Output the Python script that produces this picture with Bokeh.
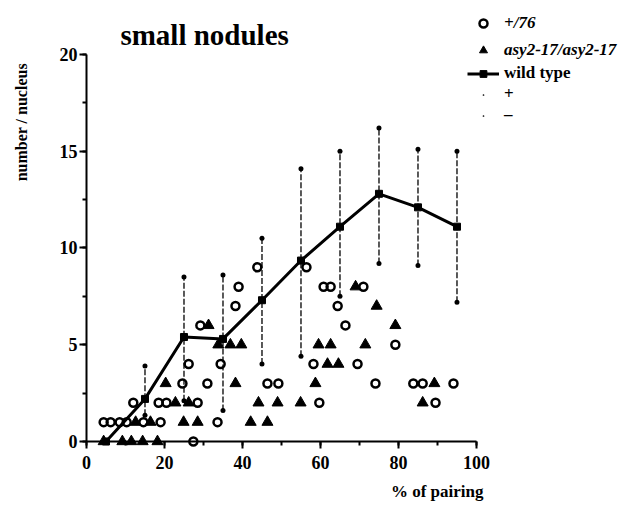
import math
from bokeh.plotting import figure
from bokeh.models import (Range1d, LinearAxis, SingleIntervalTicker, Label,
                          Legend, LegendItem)
from bokeh.embed import file_html
from bokeh.resources import INLINE

# ---------------- data ----------------
# wild type: mean per 10% pairing class and +/- SD ends
wt_x = [5, 15, 25, 35, 45, 55, 65, 75, 85, 95]
wt_mean = [0.0, 2.2, 5.4, 5.3, 7.3, 9.35, 11.1, 12.8, 12.1, 11.1]
err_x = [15, 25, 35, 45, 55, 65, 75, 85, 95]
err_plus = [3.9, 8.5, 8.6, 10.5, 14.1, 15.0, 16.2, 15.1, 15.0]
err_minus = [1.35, 2.1, 1.6, 4.0, 4.4, 7.5, 9.2, 9.1, 7.2]

# +/76 (open circles)
c76_x = [27.4,
         4.4, 6.2, 8.5, 10.3, 14.6, 19.0, 33.6,
         12.0, 18.5, 20.5, 28.5, 59.7, 89.5,
         24.6, 31.0, 46.4, 49.2, 74.1, 83.8, 86.2, 94.1,
         26.2, 34.4, 58.2, 69.5,
         79.2,
         29.2, 66.4,
         38.2, 64.4,
         39.0, 60.8, 62.6, 71.0,
         43.8, 56.4]
c76_y = [0,
         1, 1, 1, 1, 1, 1, 1,
         2, 2, 2, 2, 2, 2,
         3, 3, 3, 3, 3, 3, 3, 3,
         4, 4, 4, 4,
         5,
         6, 6,
         7, 7,
         8, 8, 8, 8,
         9, 9]

# asy2-17/asy2-17 (filled triangles)
asy_x = [4.4, 9.2, 11.5, 14.4, 18.2,
         12.6, 16.4, 24.9, 28.5, 42.1, 46.4,
         22.8, 26.2, 44.1, 49.0, 54.9, 86.2,
         20.3, 38.2, 58.7, 89.2,
         61.8, 64.6,
         33.8, 36.9, 39.7, 59.5, 62.6, 71.5,
         31.3, 79.2,
         74.4,
         69.0]
asy_y = [0, 0, 0, 0, 0,
         1, 1, 1, 1, 1, 1,
         2, 2, 2, 2, 2, 2,
         3, 3, 3, 3,
         4, 4,
         5, 5, 5, 5, 5, 5,
         6, 6,
         7,
         8]

x_ticks_interval = 20
y_ticks_interval = 5

# ---------------- figure ----------------
SERIF = "Liberation Serif"
p = figure(width=622, height=506,
           x_range=Range1d(-22.05, 137.44), y_range=Range1d(-3.36, 22.79),
           x_axis_type=None, y_axis_type=None,
           toolbar_location=None, output_backend="svg",
           min_border_left=0, min_border_right=0,
           min_border_top=0, min_border_bottom=0)
p.outline_line_color = None
p.background_fill_color = "white"
p.border_fill_color = "white"

xaxis = LinearAxis(ticker=SingleIntervalTicker(interval=x_ticks_interval, num_minor_ticks=2),
                   bounds=(0, 100), fixed_location=0)
yaxis = LinearAxis(ticker=SingleIntervalTicker(interval=y_ticks_interval, num_minor_ticks=2),
                   bounds=(0, 20), fixed_location=0)
for ax in (xaxis, yaxis):
    ax.axis_line_width = 2
    ax.major_tick_line_width = 2
    ax.minor_tick_line_width = 2
    ax.major_tick_in = 0
    ax.minor_tick_in = 0
    ax.major_tick_out = 7
    ax.minor_tick_out = 4
    ax.major_label_text_font = SERIF
    ax.major_label_text_font_size = "18px"
    ax.major_label_text_font_style = "bold"
    ax.major_label_text_color = "black"
xaxis.major_label_standoff = 8
yaxis.major_label_standoff = 2
p.add_layout(xaxis, "below")
p.add_layout(yaxis, "left")

# error bars (dashed verticals with dots at both ends)
p.segment(x0=err_x, y0=err_minus, x1=err_x, y1=err_plus,
          line_color="black", line_width=1.3, line_dash="6 2")
r_plus = p.scatter(err_x, err_plus, marker="dot", size=20, color="black")
r_minus = p.scatter(err_x, err_minus, marker="dot", size=20, color="black")

# wild type mean
r_wt_line = p.line(wt_x, wt_mean, line_color="black", line_width=3)
r_wt_sq = p.scatter(wt_x, wt_mean, marker="square", size=7, color="black")

# mutants
r_c76 = p.scatter(c76_x, c76_y, marker="circle", size=8, fill_color=None,
                  line_color="black", line_width=2.5)
r_asy = p.scatter(asy_x, asy_y, marker="triangle", size=11, color="black")

# legends
leg1 = Legend(items=[LegendItem(label="+/76", renderers=[r_c76]),
                     LegendItem(label="asy2-17/asy2-17", renderers=[r_asy])],
              location=(467, 446))
leg2 = Legend(items=[LegendItem(label="wild type", renderers=[r_wt_line, r_wt_sq]),
                     LegendItem(label="+", renderers=[r_plus]),
                     LegendItem(label="\u2013", renderers=[r_minus])],
              location=(467, 381))
for lg, style, lh, sp in ((leg1, "bold italic", 20, 7), (leg2, "bold", 17, 1)):
    lg.border_line_color = None
    lg.background_fill_alpha = 0
    lg.padding = 0
    lg.margin = 0
    lg.spacing = sp
    lg.label_height = lh
    lg.glyph_height = lh
    lg.glyph_width = 32
    lg.label_standoff = 5
    lg.label_text_font = SERIF
    lg.label_text_font_size = "17px"
    lg.label_text_font_style = style
    lg.label_text_color = "black"
    p.add_layout(lg)

# texts
p.add_layout(Label(x=8.7, y=21.0, text="small  nodules", text_font=SERIF,
                   text_font_size="29px", text_font_style="bold",
                   text_color="black", text_baseline="alphabetic"))
p.add_layout(Label(x=101.8, y=-2.6, text="% of pairing", text_font=SERIF,
                   text_font_size="17px", text_font_style="bold",
                   text_color="black",
                   text_align="right", text_baseline="alphabetic"))
p.add_layout(Label(x=-16.6, y=16.5, text="number / nucleus", text_font=SERIF,
                   text_font_size="16px", text_font_style="bold",
                   text_color="black",
                   angle=math.pi / 2, text_align="center", text_baseline="middle"))

open("out.html", "w").write(file_html(p, INLINE))
